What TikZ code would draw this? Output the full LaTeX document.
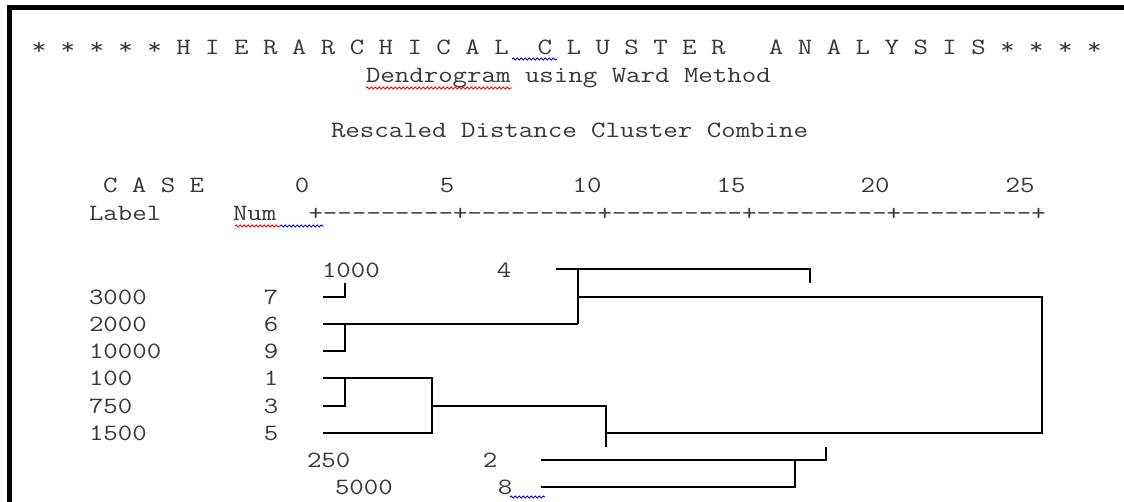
\documentclass[tikz,border=0pt]{standalone}
\usepackage{fontspec}
\usetikzlibrary{decorations.pathmorphing}
\newcommand\mytt{\fontfamily{lmtt}\fontseries{m}\fontsize{17.5}{19}\selectfont}
\newcommand\sx[1]{\scalebox{1.203}[1]{#1}}
\tikzset{
  txt/.style={inner sep=0pt, outer sep=0pt, anchor=base west, font=\mytt, text=black!78},
  ctxt/.style={txt, anchor=base},
  dline/.style={line width=1.5pt, line join=miter},
  squig/.style={line width=0.7pt, decorate, decoration={snake, amplitude=0.7pt, segment length=3pt}}
}
\begin{document}
\begin{tikzpicture}[x=0.75pt,y=-0.75pt]
\useasboundingbox (0,0) rectangle (1124,502);
\fill[white] (0,0) rectangle (1124,502);
% frame
\draw[line width=3.75pt] (9.5,502) -- (9.5,7.5) -- (1124,7.5);

% header texts
\node[txt] (title) at (31.75,55) {\sx{* * * * * H I E R A R C H I C A L\ \ C L U S T E R\ \ \ A N A L Y S I S * * * *}};
\node[txt] (sub) at (366,83) {\sx{Dendrogram using Ward Method}};
\node[txt] (resc) at (331,138) {\sx{Rescaled Distance Cluster Combine}};
\node[txt] (case) at (103,193) {\sx{C A S E}};
\node[ctxt] (t0) at (302,193) {\sx{0}};
\node[ctxt] (t5) at (447,193) {\sx{5}};
\node[ctxt] (t10) at (587,193) {\sx{10}};
\node[ctxt] (t15) at (731,193) {\sx{15}};
\node[ctxt] (t20) at (875,193) {\sx{20}};
\node[ctxt] (t25) at (1020,193) {\sx{25}};
\node[txt] (lab) at (89,221) {\sx{Label}};
\node[txt] (num) at (233,221) {\sx{Num}};
\node[txt] (ruler) at (308.5,221) {\sx{+---------+---------+---------+---------+---------+}};

% squiggles
\draw[red, squig] (366,88) -- (512,88);
\draw[blue, squig] (512,59) -- (557,59);
\draw[red, squig] (235,226) -- (280,226);
\draw[blue, squig] (280,226) -- (324,226);
\draw[blue, squig] (510,497) -- (545,497);

% row texts
\node[txt] (l1000) at (322,277) {\sx{1000}};
\node[ctxt] (n4) at (504,277) {\sx{4}};
\node[txt] (l3000) at (89,304.5) {\sx{3000}};
\node[ctxt] (n7) at (271,304.5) {\sx{7}};
\node[txt] (l2000) at (89,331.5) {\sx{2000}};
\node[ctxt] (n6) at (271,331.5) {\sx{6}};
\node[txt] (l10000) at (89,358.5) {\sx{10000}};
\node[ctxt] (n9) at (271,358.5) {\sx{9}};
\node[txt] (l100) at (89,385.5) {\sx{100}};
\node[ctxt] (n1) at (271,385.5) {\sx{1}};
\node[txt] (l750) at (89,413.5) {\sx{750}};
\node[ctxt] (n3) at (271,413.5) {\sx{3}};
\node[txt] (l1500) at (89,440.5) {\sx{1500}};
\node[ctxt] (n5) at (271,440.5) {\sx{5}};
\node[txt] (l250) at (307,467.5) {\sx{250}};
\node[ctxt] (n2) at (490,467.5) {\sx{2}};
\node[txt] (l5000) at (335,494.5) {\sx{5000}};
\node[ctxt] (n8) at (505,494.5) {\sx{8}};

% dendrogram coordinates
\coordinate (s4) at (556,269);
\coordinate (s7) at (323,297);
\coordinate (s6) at (323,324);
\coordinate (s9) at (323,351);
\coordinate (s1) at (323,378);
\coordinate (s3) at (323,406);
\coordinate (s5) at (323,433);
\coordinate (s2) at (541,460);
\coordinate (s8) at (541,487);
\coordinate (a7) at (345,297); \coordinate (a7t) at (345,283);
\coordinate (a6) at (345,324); \coordinate (a9) at (345,351);
\coordinate (b6) at (578,324); \coordinate (b4) at (578,269); \coordinate (bm) at (578,297);
\coordinate (e4) at (810,269); \coordinate (e4t) at (810,283);
\coordinate (r1) at (1042,297); \coordinate (r2) at (1042,433);
\coordinate (c1) at (345,378); \coordinate (c3) at (345,406);
\coordinate (d1) at (432,378); \coordinate (d5) at (432,433); \coordinate (dm) at (432,406);
\coordinate (f1) at (606,406); \coordinate (f2) at (606,433); \coordinate (f3) at (606,447);
\coordinate (g2) at (795,460); \coordinate (g8) at (795,487);
\coordinate (h2) at (826,460); \coordinate (h2t) at (826,447);

\draw[dline] (s4) -- (e4) -- (e4t);
\draw[dline] (s7) -- (a7) -- (a7t);
\draw[dline] (s6) -- (b6);
\draw[dline] (s9) -- (a9) -- (a6);
\draw[dline] (b4) -- (b6);
\draw[dline] (bm) -- (r1) -- (r2) -- (f2);
\draw[dline] (s1) -- (d1) -- (d5) -- (s5);
\draw[dline] (s3) -- (c3) -- (c1);
\draw[dline] (dm) -- (f1) -- (f3);
\draw[dline] (s2) -- (h2) -- (h2t);
\draw[dline] (s8) -- (g8) -- (g2);
\end{tikzpicture}
\end{document}
